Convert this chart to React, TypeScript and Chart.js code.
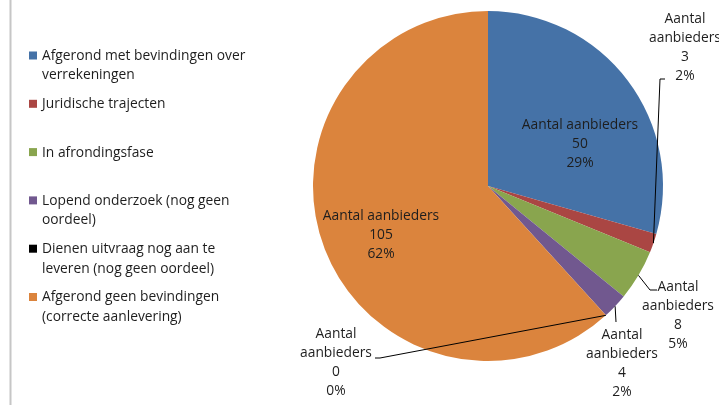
import React, { useEffect, useRef } from "react";
import { Chart, registerables } from "chart.js";

Chart.register(...registerables);

const categories = [
  "Afgerond met bevindingen over verrekeningen",
  "Juridische trajecten",
  "In afrondingsfase",
  "Lopend onderzoek (nog geen oordeel)",
  "Dienen uitvraag nog aan te leveren (nog geen oordeel)",
  "Afgerond geen bevindingen (correcte aanlevering)",
];
const values = [50, 3, 8, 4, 0, 105];
const colors = ["#4572A7", "#AA4643", "#89A54E", "#71588F", "#000000", "#DB843D"];
const seriesName = "Aantal aanbieders";

const FONT = "13.8px 'Open Sans', sans-serif";
const TEXT = "#1e1e1e";

// label placement (style only)
const labelLayout = [
  { x: 580, y: 125, inside: true, path: [] as number[][] },
  { x: 685, y: 19, inside: false, path: [[660, 79], [665, 79]] },
  { x: 678, y: 287, inside: false, path: [[650, 290], [657, 290]] },
  { x: 622, y: 335, inside: false, path: [[616, 322]] },
  { x: 336, y: 334, inside: false, path: [[380, 358], [375, 358]] },
  { x: 381, y: 216, inside: true, path: [] as number[][] },
];

function wrap(ctx: CanvasRenderingContext2D, text: string, maxW: number) {
  const words = text.split(" ");
  const lines: string[] = [];
  let cur = "";
  for (const w of words) {
    const t = cur ? cur + " " + w : w;
    if (ctx.measureText(t).width > maxW && cur) {
      lines.push(cur);
      cur = w;
    } else cur = t;
  }
  if (cur) lines.push(cur);
  return lines;
}

const decorPlugin = {
  id: "decor",
  afterDraw(chart: any) {
    const ctx: CanvasRenderingContext2D = chart.ctx;
    ctx.save();
    // left border line
    ctx.strokeStyle = "#c6c6c6";
    ctx.lineWidth = 2;
    ctx.beginPath();
    ctx.moveTo(10.5, 0);
    ctx.lineTo(10.5, 405);
    ctx.stroke();

    // legend
    ctx.font = FONT;
    ctx.textBaseline = "middle";
    ctx.textAlign = "left";
    categories.forEach((c, i) => {
      const y = 56 + i * 48.3;
      ctx.fillStyle = colors[i];
      ctx.fillRect(29, y - 4.5, 8, 8);
      ctx.fillStyle = TEXT;
      const lines = wrap(ctx, c, 215);
      lines.forEach((l, k) => ctx.fillText(l, 42, y + k * 19.5));
    });

    // data labels
    const total = values.reduce((a, b) => a + b, 0);
    const meta = chart.getDatasetMeta(0);
    meta.data.forEach((arc: any, i: number) => {
      const p = arc.getProps(["x", "y", "startAngle", "endAngle", "outerRadius"], true);
      const mid = (p.startAngle + p.endAngle) / 2;
      const ax = p.x + Math.cos(mid) * p.outerRadius;
      const ay = p.y + Math.sin(mid) * p.outerRadius;
      const lay = labelLayout[i];
      if (lay.path.length) {
        ctx.strokeStyle = "#000";
        ctx.lineWidth = 1;
        ctx.beginPath();
        ctx.moveTo(ax, ay);
        lay.path.forEach((pt) => ctx.lineTo(pt[0], pt[1]));
        ctx.stroke();
      }
      const pct = Math.round((values[i] / total) * 100) + "%";
      const lines = lay.inside
        ? [seriesName, String(values[i]), pct]
        : [...seriesName.split(" "), String(values[i]), pct];
      ctx.fillStyle = TEXT;
      ctx.textAlign = "center";
      lines.forEach((l, k) => ctx.fillText(l, lay.x, lay.y + k * 19));
    });
    ctx.restore();
  },
};

export default function App() {
  const ref = useRef<HTMLCanvasElement>(null);
  useEffect(() => {
    const chart = new Chart(ref.current!, {
      type: "pie",
      data: {
        labels: categories,
        datasets: [
          {
            label: seriesName,
            data: values,
            backgroundColor: colors,
            borderWidth: 0,
          },
        ],
      },
      options: {
        animation: false,
        responsive: true,
        maintainAspectRatio: false,
        layout: { padding: { left: 313, right: 56, top: 11, bottom: 44 } },
        plugins: { legend: { display: false }, tooltip: { enabled: false } },
      },
      plugins: [decorPlugin],
    });
    return () => chart.destroy();
  }, []);
  return (
    <div style={{ position: "fixed", left: 0, top: 0, width: 719, height: 405, background: "#fff" }}>
      <canvas ref={ref} />
    </div>
  );
}
